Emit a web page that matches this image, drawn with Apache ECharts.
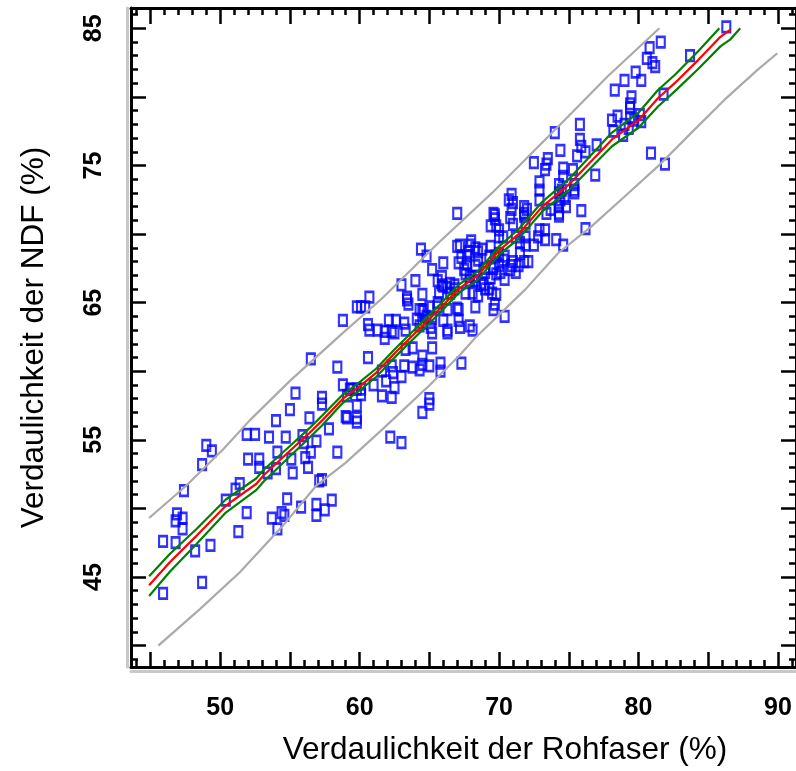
<!DOCTYPE html>
<html>
<head>
<meta charset="utf-8">
<script src="https://cdn.jsdelivr.net/npm/echarts@6/dist/echarts.min.js"></script>
<style>html,body{margin:0;padding:0;background:#fff}#c{width:796px;height:771px}</style>
</head>
<body>
<div id="c"></div>
<script>
// ---------- data ----------
const xTitle = 'Verdaulichkeit der Rohfaser (%)';
const yTitle = 'Verdaulichkeit der NDF (%)';
const xRange = [43.6, 91.3];
const yRange = [38.44, 86.48];
const xMajorTicks = [45, 50, 55, 60, 65, 70, 75, 80, 85, 90];
const xTickLabels = [50, 60, 70, 80, 90];
const yMajorTicks = [40, 45, 50, 55, 60, 65, 70, 75, 80, 85];
const yTickLabels = [45, 55, 65, 75, 85];

// observations [Rohfaser, NDF]
const pointsLow = [
[51.9,55.4],[52.5,55.4],[53.5,55.2],[54.7,55.2],[49.0,54.6],[49.4,54.2],[48.7,53.2],[52.0,53.6],[52.8,53.6],[52.8,53.0],
[54.1,54.1],[55.1,53.6],[54.0,52.9],[55.2,52.6],[53.4,52.6],[56.3,53.0],[57.8,55.8],[58.4,54.1],[57.1,52.0],[57.3,52.1],
[47.4,51.3],[51.4,51.8],[51.1,51.4],[50.4,50.6],[51.9,49.7],[54.8,50.7],[55.8,50.1],[53.7,49.3],[54.4,49.7],[54.6,49.5],
[54.1,48.5],[56.9,50.3],[56.9,49.5],[57.5,49.9],[58.0,50.6],[46.9,49.6],[47.3,49.3],[46.8,49.1],[47.3,48.5],[45.9,47.6],
[46.8,47.5],[51.3,48.3],[49.3,47.3],[48.2,46.9],[48.7,44.6],[45.9,43.8],[56.1,53.7]
];
const pointsMid = [
[60.7,65.4],[59.8,64.7],[60.1,64.7],[60.4,64.7],[63.4,65.2],[64.5,65.6],[58.8,63.7],[60.6,63.4],[60.7,63.0],[61.3,63.0],
[61.8,62.9],[61.8,62.4],[62.1,63.7],[62.6,63.7],[63.2,63.5],[63.3,63.0],[62.3,62.9],
[56.5,60.9],[58.4,60.3],[60.6,61.0],[58.8,59.0],[59.3,58.7],[59.5,58.7],[59.8,58.7],[60.1,58.7],[59.1,58.2],[60.1,58.3],
[61.0,59.0],[61.9,59.3],[62.5,58.8],[61.6,58.2],[62.3,58.1],[59.8,57.5],[59.0,56.7],[59.1,56.6],[59.8,56.6],[59.8,56.3],
[57.3,58.1],[57.3,57.6],[55.4,58.4],[55.0,57.2],[56.4,56.6],[54.0,56.4],
[55.9,55.3],[56.0,54.8],[56.9,54.9],[56.5,54.1],
[62.2,55.2],[63.0,54.8],[64.5,57.0],[65.0,57.6],[65.2,61.7],[63.3,61.6],[63.8,61.7],
[62.3,60.4],[63.2,60.4],[63.8,60.3],[64.3,60.1],[64.5,60.5],[65.0,60.4],
[61.6,60.0],[65.8,60.0],[66.3,62.8],[62.4,59.9],[63.0,59.6],
[65.8,60.6],[67.3,60.6],[65.0,58.0],[64.5,61.1],
[65.1,63.2],[65.2,62.8],[66.3,63.0],[67.2,63.2],[67.9,63.3],[68.1,63.0],[62.5,62.8],
[64.3,64.5],[64.6,64.5],[64.8,64.0],[64.1,63.8],[64.5,63.5]
];
const pointsCore = [
[65.0,64.7],[65.6,64.7],[66.3,64.5],[67.1,64.5],[68.3,64.7],[69.8,65.6],[69.7,64.9],[70.4,64.0],
[64.0,66.6],[63.0,66.3],[63.4,65.4],[63.5,64.9],[65.6,66.6],[65.9,66.3],[66.3,66.1],[66.5,65.7],[66.8,66.3],[67.6,67.1],
[67.9,66.6],[68.3,66.9],[68.7,66.4],[69.0,66.0],[69.4,66.8],[69.8,67.1],
[67.0,71.5],[69.7,71.4],[69.4,70.6],[70.8,71.2],[71.0,70.7],[71.8,71.3],[71.9,70.8],[70.0,69.8],[71.9,69.2],[64.4,68.9],
[64.8,68.4],[67.2,69.2],[68.0,69.5],[67.8,68.7],[68.5,68.7],[68.5,68.1],[69.3,68.4],[67.3,68.3],[67.7,67.8],[66.0,67.9],
[65.2,67.4],[69.0,67.5],[69.6,67.5],[70.0,67.7],[70.3,68.1],[71.0,68.0],[71.8,68.0],[70.8,67.4],[71.2,67.2],
[67.0,69.1],[65.9,66.9],[66.0,66.2],[66.5,66.4],[66.8,66.0],[65.7,65.7],[65.6,65.0],[67.0,64.6],[67.1,63.7],[65.2,63.8],
[66.0,63.7],[64.5,64.4],[64.3,63.3],
[67.1,67.9],[67.5,67.4],[67.9,66.9],[68.3,66.6],[68.9,66.3],[69.3,66.0],[68.1,65.7],[67.6,65.7],[68.5,65.5],[69.5,65.7],[69.6,64.5]
];
const pointsUpper = [
[78.1,78.3],[78.5,78.6],[79.0,78.0],[75.8,78.0],[74.0,77.4],[74.4,76.1],[75.8,76.9],[75.9,76.4],[76.2,76.0],[77.0,76.5],
[75.6,75.7],[73.5,75.5],[72.5,75.2],[73.4,75.1],[73.3,74.7],[74.6,74.8],[74.6,74.2],[76.9,74.3],[72.9,73.8],[72.9,73.2],
[74.3,73.6],[74.5,73.2],[75.4,73.6],[75.4,73.0],[70.9,72.9],[70.7,72.5],[70.9,71.8],[71.8,72.0],[72.0,71.8],[72.9,72.5],
[73.7,71.8],[74.3,72.0],[74.8,72.0],[73.4,71.5],[74.3,71.3],[75.9,71.7],[76.2,70.4],[73.3,70.3],[72.8,69.8],[73.3,69.6],
[74.1,69.6],[74.6,69.2],[72.5,69.2],[69.6,71.5],[69.7,71.1],[70.0,70.3],[70.3,69.8],[71.2,69.8],[71.5,69.4],[68.8,68.9],
[69.4,69.1],[69.7,68.4],[72.1,68.0],[69.0,67.2],[70.1,67.2],[70.4,66.7],[71.4,67.7],
[67.9,69.2],[68.3,69.0],[67.7,68.4],[68.3,67.7],[70.0,68.6],[70.4,68.4],[70.9,67.7],[71.5,68.6],[71.0,72.3],[71.8,71.5],
[72.9,70.3],[71.9,69.8],[69.8,70.6],[74.3,73.0],[74.4,72.5],[74.3,71.5],[75.4,73.2]
];
const pointsTop = [
[81.6,84.0],[80.8,83.6],[80.6,82.8],[81.0,82.5],[81.2,82.2],[83.7,83.0],[79.8,81.8],[80.2,81.2],[79.0,81.2],[78.3,80.5],
[79.5,80.0],[79.4,79.5],[79.4,79.2],[81.8,80.2],[79.4,78.5],[79.7,78.3],[80.1,78.7],[80.2,78.2],[78.2,77.5],[78.9,77.2],
[79.3,77.7],[80.9,75.9],[81.9,75.1],[75.3,74.7],[74.7,72.6],[86.3,85.1]
];

// regression line and bands
const fitX  = [44.9,46.4,48.3,50.4,52.6,53.1,55.0,56.4,57.3,58.8,60.0,61.2,62.6,64.0,65.7,67.1,68.5,70.0,71.4,73.1,75.0,78.1,80.0,81.4,82.6,84.3,85.9,86.6];
const fitY  = [44.4,46.1,48.0,50.2,51.8,52.4,54.2,55.5,56.4,58.0,58.9,59.9,61.4,62.8,64.5,66.0,67.0,68.8,70.0,72.0,73.6,76.9,78.3,79.9,81.0,82.7,84.4,84.9];
const ciUpX = [44.9,46.4,48.3,50.4,52.6,53.1,55.0,56.4,57.3,58.8,60.0,61.2,62.6,64.0,65.7,67.1,68.5,70.0,71.4,73.1,75.0,78.1,80.0,81.4,82.6,84.3,85.8];
const ciUpY = [45.05,46.7,48.5,50.65,52.2,52.8,54.55,55.85,56.75,58.3,59.2,60.2,61.7,63.1,64.8,66.3,67.3,69.1,70.35,72.35,74.0,77.4,78.85,80.5,81.6,83.35,85.0];
const ciLoX = [44.9,46.4,48.3,50.4,52.6,53.1,55.0,56.4,57.3,58.8,60.0,61.2,62.6,64.0,65.7,67.1,68.5,70.0,71.4,73.1,75.0,78.1,80.0,81.4,82.6,84.3,85.9,86.6,87.3];
const ciLoY = [43.62,45.4,47.4,49.7,51.35,51.95,53.8,55.15,56.05,57.7,58.6,59.6,61.1,62.5,64.2,65.7,66.7,68.5,69.65,71.65,73.2,76.4,77.75,79.3,80.4,82.05,83.7,84.2,85.0];
const piUpX = [44.9,47.5,50.2,52.1,55.0,58.8,61.6,65.7,69.5,74.3,77.8,81.5];
const piUpY = [49.3,51.6,54.3,56.4,59.3,62.8,65.3,69.4,73.0,77.9,81.5,85.0];
const piLoX = [45.56,48.54,51.39,54.49,56.87,59.01,61.63,64.96,67.11,68.3,71.87,74.25,76.63,79.01,81.39,83.77,86.16,88.54,89.96];
const piLoY = [40.0,42.66,45.33,48.73,51.64,53.34,55.76,58.92,61.1,62.44,65.95,68.62,70.56,72.74,74.93,77.36,79.78,81.97,83.18];

// ---------- chart ----------
const FONT = '"Liberation Sans", Arial, Helvetica, sans-serif';
const zip = (xs, ys) => xs.map((x, i) => [x, ys[i]]);
const minorOf = (r) => { const a = []; for (let v = Math.ceil(r[0]); v <= Math.floor(r[1]); v++) a.push(v); return a; };
const xMinor = minorOf(xRange), yMinor = minorOf(yRange);
const allPoints = pointsLow.concat(pointsMid, pointsCore, pointsUpper, pointsTop);

const tickStyle = { color: '#000', width: 2.5 };
function xAx(extra) {
  return Object.assign({
    type: 'value', min: xRange[0], max: xRange[1], splitLine: { show: false },
    axisLine: { show: false, onZero: false }, axisLabel: { show: false }, axisTick: { show: false }
  }, extra);
}
function yAx(extra) {
  return Object.assign({
    type: 'value', min: yRange[0], max: yRange[1], splitLine: { show: false },
    axisLine: { show: false, onZero: false }, axisLabel: { show: false }, axisTick: { show: false }
  }, extra);
}
const blackLine = { show: true, onZero: false, lineStyle: { color: '#000', width: 3 } };

const option = {
  animation: false,
  backgroundColor: '#fff',
  grid: { left: 131, top: 8, width: 668, height: 660, containLabel: false },
  xAxis: [
    xAx({ position: 'bottom', axisLine: blackLine,
      axisTick: { show: true, inside: true, length: 15, customValues: xMajorTicks, lineStyle: tickStyle },
      axisLabel: { show: true, customValues: xTickLabels, margin: 29, color: '#000', fontSize: 25, fontWeight: 'bold', fontFamily: FONT },
      name: xTitle, nameLocation: 'middle', nameGap: 67,
      nameTextStyle: { color: '#000', fontSize: 31.5, fontFamily: FONT, padding: [0, 0, 0, 83] } }),
    xAx({ position: 'bottom', axisTick: { show: true, inside: true, length: 7, customValues: xMinor, lineStyle: tickStyle } }),
    xAx({ position: 'top', axisLine: blackLine,
      axisTick: { show: true, inside: true, length: 16, customValues: xMajorTicks, lineStyle: tickStyle } }),
    xAx({ position: 'top', axisTick: { show: true, inside: true, length: 7, customValues: xMinor, lineStyle: tickStyle } }),
    xAx({ position: 'bottom', offset: 4, axisLine: { show: true, onZero: false, lineStyle: { color: '#c8c8c8', width: 3 } } })
  ],
  yAxis: [
    yAx({ position: 'left', axisLine: blackLine,
      axisTick: { show: true, inside: true, length: 15, customValues: yMajorTicks, lineStyle: tickStyle },
      axisLabel: { show: true, customValues: yTickLabels, rotate: 90, margin: 24, color: '#000', fontSize: 25, fontWeight: 'bold', fontFamily: FONT },
      name: yTitle, nameLocation: 'middle', nameGap: 81,
      nameTextStyle: { color: '#000', fontSize: 31.5, fontFamily: FONT } }),
    yAx({ position: 'left', axisTick: { show: true, inside: true, length: 7, customValues: yMinor, lineStyle: tickStyle } }),
    yAx({ position: 'right', axisLine: blackLine,
      axisTick: { show: true, inside: true, length: 15, customValues: yMajorTicks, lineStyle: tickStyle } }),
    yAx({ position: 'right', axisTick: { show: true, inside: true, length: 7, customValues: yMinor, lineStyle: tickStyle } }),
    yAx({ position: 'left', offset: 4, axisLine: { show: true, onZero: false, lineStyle: { color: '#c8c8c8', width: 3 } } })
  ],
  series: [
    { type: 'scatter', data: allPoints, symbol: 'rect', symbolSize: [8, 10.5],
      itemStyle: { color: 'rgba(0,0,0,0)', borderColor: '#0000ff', borderWidth: 2.4 }, z: 2, silent: true },
    { type: 'line', data: zip(piUpX, piUpY), showSymbol: false, symbol: 'none', lineStyle: { color: '#aaaaaa', width: 2.2 }, z: 3, silent: true },
    { type: 'line', data: zip(piLoX, piLoY), showSymbol: false, symbol: 'none', lineStyle: { color: '#aaaaaa', width: 2.2 }, z: 3, silent: true },
    { type: 'line', data: zip(ciUpX, ciUpY), showSymbol: false, symbol: 'none', lineStyle: { color: '#008000', width: 2.2 }, z: 4, silent: true },
    { type: 'line', data: zip(ciLoX, ciLoY), showSymbol: false, symbol: 'none', lineStyle: { color: '#008000', width: 2.2 }, z: 4, silent: true },
    { type: 'line', data: zip(fitX, fitY), showSymbol: false, symbol: 'none', lineStyle: { color: '#ff0000', width: 2.2 }, z: 5, silent: true }
  ]
};
const chart = echarts.init(document.getElementById('c'), null, { renderer: 'canvas' });
chart.setOption(option);
</script>
</body>
</html>
